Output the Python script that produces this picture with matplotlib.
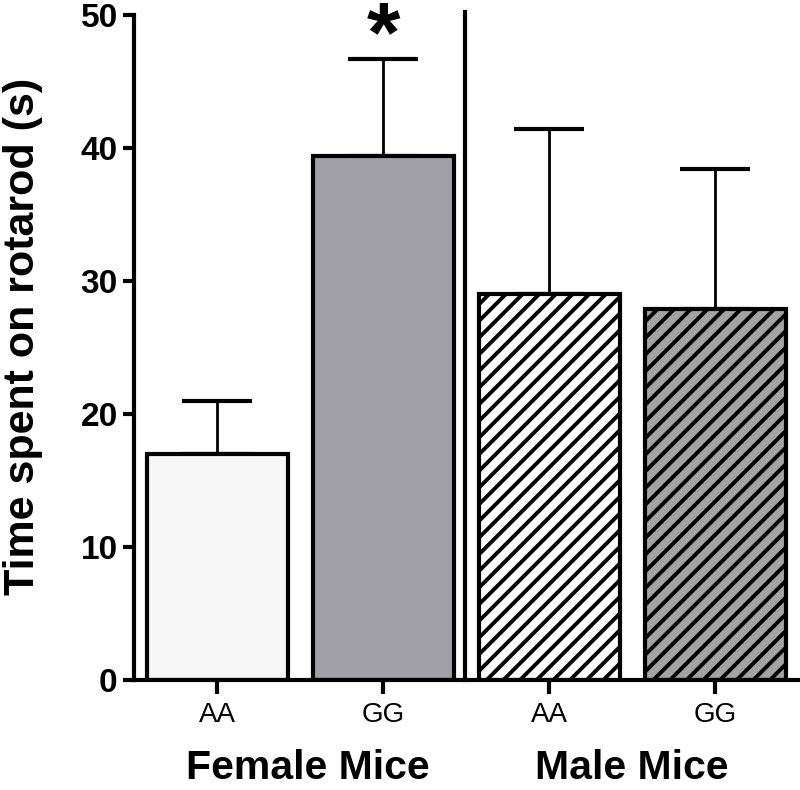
import numpy as np
import matplotlib
matplotlib.use("Agg")
import matplotlib.pyplot as plt

genotypes = ["AA", "GG", "AA", "GG"]
groups = ["Female Mice", "Male Mice"]
means = [17.0, 39.4, 29.0, 27.9]
sems = [4.0, 7.3, 12.4, 10.5]
fills = ["#f7f7f7", "#a0a0a6", "white", "#a3a3a3"]
hatches = ["", "", "//", "//"]

plt.rcParams['font.family'] = ['Liberation Sans', 'DejaVu Sans']
plt.rcParams['hatch.linewidth'] = 2.8

fig = plt.figure(figsize=(8, 7.9), dpi=100)
ax = fig.add_axes([0.168, 0.139, 0.832, 0.842])

x = np.arange(len(means))
bars = ax.bar(x, means, width=0.85, color=fills, edgecolor="black", linewidth=3, zorder=2)
for b, h in zip(bars, hatches):
    b.set_hatch(h)
ax.errorbar(x, means, yerr=[np.zeros(len(sems)), sems], fmt="none", ecolor="black",
            elinewidth=2, capsize=25, capthick=3, zorder=1)

# separator between female and male groups
ax.plot([1.49, 1.49], [0, 50.2], color="black", lw=3, clip_on=False)

# significance marker
ax.text(1, 48.2, "*", ha="center", va="center", fontsize=62, fontweight="bold")

ax.set_xlim(-0.5, 3.51)
ax.set_ylim(0, 50)
ax.set_yticks([0, 10, 20, 30, 40, 50])
ax.set_xticks(x)
ax.set_xticklabels(genotypes, fontsize=20)
for lab in ax.get_yticklabels():
    lab.set_fontsize(24)
    lab.set_fontweight("bold")
ax.tick_params(axis="y", length=8, width=3, pad=4)
ax.tick_params(axis="x", length=10, width=3, pad=6)
ax.spines["top"].set_visible(False)
ax.spines["right"].set_visible(False)
ax.spines["left"].set_linewidth(3)
ax.spines["bottom"].set_linewidth(3)

ax.set_ylabel("Time spent on rotarod (s)", fontsize=31, fontweight="bold")
ax.yaxis.set_label_coords(-0.137, 0.517)

fig.text(308 / 800, 1 - 779 / 790, groups[0], ha="center", va="baseline", fontsize=29.5, fontweight="bold")
fig.text(632 / 800, 1 - 779 / 790, groups[1], ha="center", va="baseline", fontsize=29.5, fontweight="bold")

fig.savefig("out.png", dpi=100)
